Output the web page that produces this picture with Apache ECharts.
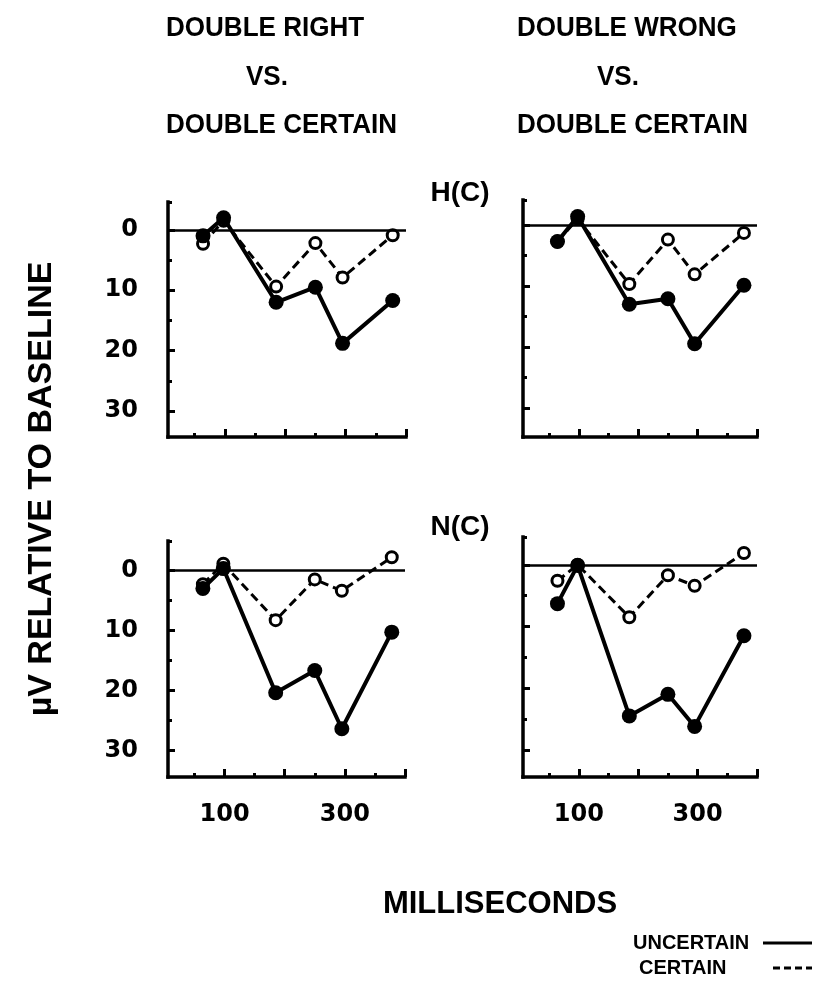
<!DOCTYPE html>
<html>
<head>
<meta charset="utf-8">
<script src="https://cdn.jsdelivr.net/npm/echarts@6/dist/echarts.min.js"></script>
<style>
  html, body { margin: 0; padding: 0; background: #fff; }
  #chart { width: 820px; height: 982px; }
</style>
</head>
<body>
<div id="chart"></div>
<script>
// Sample times (ms) of the measured peaks
const latencyMs = [64, 98, 185, 250, 295, 378];

// Amplitudes in µV relative to baseline (positive values plotted downward)
const rightHUncertain = [1.0, -2.0, 12.0, 9.5, 18.8, 11.7];
const rightHCertain   = [2.3, -1.5, 9.4, 2.2, 7.9, 0.9];
const wrongHUncertain = [2.7, -1.4, 13.0, 12.1, 19.5, 9.9];
const wrongHCertain   = [2.7, -1.0, 9.7, 2.4, 8.1, 1.3];
const rightNUncertain = [3.0, -0.3, 20.4, 16.7, 26.4, 10.3];
const rightNCertain   = [2.3, -1.1, 8.3, 1.5, 3.4, -2.2];
const wrongNUncertain = [6.3, 0.1, 24.5, 21.0, 26.2, 11.5];
const wrongNCertain   = [2.6, 0.0, 8.5, 1.7, 3.4, -1.9];

// Tick positions and labels
const xMajorTicks = [100, 200, 300, 400];
const xMinorTicks = [50, 150, 250, 350];
const xTickLabels = [100, 300];
const yMajorTicks = [0, 10, 20, 30];
const yMinorTicks = [5, 15, 25];
const yTickLabels = [0, 10, 20, 30];

// Text
const columnTitles = [
  ['DOUBLE RIGHT', 'VS.', 'DOUBLE CERTAIN'],
  ['DOUBLE WRONG', 'VS.', 'DOUBLE CERTAIN']
];
const rowLabels = ['H(C)', 'N(C)'];
const yTitle = 'µV RELATIVE TO BASELINE';
const xTitle = 'MILLISECONDS';
const legendNames = ['UNCERTAIN', 'CERTAIN'];

// Panel layout: grid box in pixels and the axis extents
const panels = [
  { left: 168, top: 202, width: 238, height: 235, xMin: 6, xMax: 400, yMin: -4.6, yMax: 34.3,
    uncertain: rightHUncertain, certain: rightHCertain, yLabels: true,  xLabels: false },
  { left: 523, top: 200, width: 234, height: 237, xMin: 6, xMax: 400, yMin: -4.1, yMax: 34.8,
    uncertain: wrongHUncertain, certain: wrongHCertain, yLabels: false, xLabels: false },
  { left: 168, top: 541, width: 237, height: 236, xMin: 6, xMax: 400, yMin: -4.9, yMax: 34.45,
    uncertain: rightNUncertain, certain: rightNCertain, yLabels: true,  xLabels: true },
  { left: 523, top: 537, width: 234, height: 240, xMin: 6, xMax: 400, yMin: -4.5, yMax: 34.4,
    uncertain: wrongNUncertain, certain: wrongNCertain, yLabels: false, xLabels: true }
];

const INK = '#000';
const numFont = '"DejaVu Sans", sans-serif';
const textFont = '"Liberation Sans", Arial, sans-serif';

const grids = [], xAxes = [], yAxes = [], series = [];

panels.forEach((p, i) => {
  grids.push({ left: p.left, top: p.top, width: p.width, height: p.height, containLabel: false });

  // main x axis: line, long ticks, labels
  xAxes.push({
    gridIndex: i, type: 'value', min: p.xMin, max: p.xMax, position: 'bottom',
    axisLine: { show: true, onZero: false, lineStyle: { color: INK, width: 3.5, cap: 'square' } },
    axisTick: { show: true, inside: true, length: 8, customValues: xMajorTicks,
                lineStyle: { color: INK, width: 3 } },
    axisLabel: { show: p.xLabels, customValues: xTickLabels, margin: 26,
                 color: INK, fontFamily: numFont, fontWeight: 'bold', fontSize: 24 },
    splitLine: { show: false }
  });
  // short ticks between the labelled ones
  xAxes.push({
    gridIndex: i, type: 'value', min: p.xMin, max: p.xMax, position: 'bottom',
    axisLine: { show: false, onZero: false },
    axisTick: { show: true, inside: true, length: 4, customValues: xMinorTicks,
                lineStyle: { color: INK, width: 3 } },
    axisLabel: { show: false },
    splitLine: { show: false }
  });

  yAxes.push({
    gridIndex: i, type: 'value', inverse: true, min: p.yMin, max: p.yMax, position: 'left',
    axisLine: { show: true, onZero: false, lineStyle: { color: INK, width: 3.5, cap: 'square' } },
    axisTick: { show: true, inside: true, length: 7, customValues: yMajorTicks,
                lineStyle: { color: INK, width: 3 } },
    axisLabel: { show: p.yLabels, customValues: yTickLabels, margin: 30,
                 color: INK, fontFamily: numFont, fontWeight: 'bold', fontSize: 24 },
    splitLine: { show: false }
  });
  yAxes.push({
    gridIndex: i, type: 'value', inverse: true, min: p.yMin, max: p.yMax, position: 'left',
    axisLine: { show: false, onZero: false },
    axisTick: { show: true, inside: true, length: 4, customValues: yMinorTicks.concat([p.yMin]),
                lineStyle: { color: INK, width: 3 } },
    axisLabel: { show: false },
    splitLine: { show: false }
  });

  const xi = i * 2, yi = i * 2;

  series.push({
    name: legendNames[1], type: 'line',
    xAxisIndex: xi, yAxisIndex: yi, z: 3,
    data: latencyMs.map((t, k) => [t, p.certain[k]]),
    symbol: 'circle', symbolSize: 11, showSymbol: true,
    lineStyle: { color: INK, width: 3, type: [9, 5] },
    itemStyle: { color: '#fff', borderColor: INK, borderWidth: 3 },
    emphasis: { disabled: true },
    markLine: {
      silent: true, symbol: 'none', label: { show: false },
      lineStyle: { color: INK, width: 2.5, type: 'solid' },
      data: [{ yAxis: 0 }]
    }
  });
  series.push({
    name: legendNames[0], type: 'line',
    xAxisIndex: xi, yAxisIndex: yi, z: 4,
    data: latencyMs.map((t, k) => [t, p.uncertain[k]]),
    symbol: 'circle', symbolSize: 15, showSymbol: true,
    lineStyle: { color: INK, width: 4, type: 'solid' },
    itemStyle: { color: INK, borderWidth: 0 },
    emphasis: { disabled: true }
  });
});

const txt = (text, x, y, size, align, extra) => Object.assign({
  type: 'text', x: x, y: y, silent: true,
  style: { text: text, fill: INK, fontFamily: textFont, fontWeight: 'bold', fontSize: size,
           align: align || 'left', verticalAlign: 'middle' }
}, extra || {});

const graphics = [];
// column headings (lettering is slightly condensed)
[[166, 246], [517, 597]].forEach((pos, c) => {
  graphics.push(txt(columnTitles[c][0], pos[0], 28, 28, 'left', { scaleX: 0.93 }));
  graphics.push(txt(columnTitles[c][1], pos[1], 77, 28, 'left', { scaleX: 0.93 }));
  graphics.push(txt(columnTitles[c][2], pos[0], 125, 28, 'left', { scaleX: 0.93 }));
});
// row labels
graphics.push(txt(rowLabels[0], 460, 193, 28, 'center'));
graphics.push(txt(rowLabels[1], 460, 527, 28, 'center'));
// axis titles
graphics.push(txt(yTitle, 42, 489, 34, 'center', { rotation: Math.PI / 2 }));
graphics.push(txt(xTitle, 500, 904, 31, 'center'));
// key
graphics.push(txt(legendNames[0], 633, 943, 20, 'left'));
graphics.push(txt(legendNames[1], 639, 968, 20, 'left'));
graphics.push({ type: 'line', silent: true, shape: { x1: 763, y1: 943, x2: 812, y2: 943 },
                style: { stroke: INK, lineWidth: 3 } });
graphics.push({ type: 'line', silent: true, shape: { x1: 773, y1: 968, x2: 812, y2: 968 },
                style: { stroke: INK, lineWidth: 3, lineDash: [7, 4] } });

const chart = echarts.init(document.getElementById('chart'), null, { renderer: 'canvas' });
chart.setOption({
  animation: false,
  backgroundColor: '#fff',
  grid: grids,
  xAxis: xAxes,
  yAxis: yAxes,
  series: series,
  graphic: graphics
});
</script>
</body>
</html>
